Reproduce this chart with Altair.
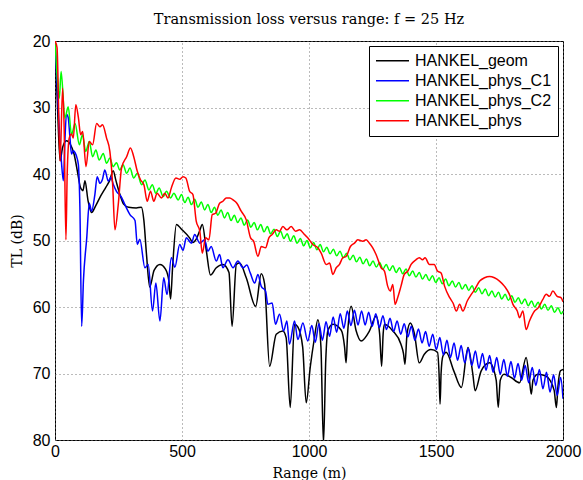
import altair as alt
import pandas as pd

names = ["HANKEL_geom", "HANKEL_phys_C1", "HANKEL_phys_C2", "HANKEL_phys"]
colors = ["#000000", "#0000ff", "#00ff00", "#ff0000"]
x_ticks = [0, 500, 1000, 1500, 2000]
y_ticks = [20, 30, 40, 50, 60, 70, 80]

geom_x = [0, 10, 20, 30, 45, 60, 75, 90, 100, 110, 118, 130, 144, 160, 180, 200, 215, 229, 240, 255,
          270, 290, 320, 340, 350, 360, 373, 390, 413, 435, 448, 455, 463, 478, 498,
          530, 543, 556, 570, 580, 596, 612, 635, 661, 685, 697, 714, 727, 753, 790, 812, 825, 845,
          871, 897, 910, 926, 943, 956, 975, 989,
          1005, 1020, 1035, 1047, 1057, 1066, 1074, 1094, 1127, 1140, 1146, 1152, 1166, 1185, 1205,
          1238, 1264, 1278, 1286, 1292, 1297, 1330, 1362, 1372, 1378, 1386, 1399, 1415, 1434, 1454,
          1480, 1506, 1512, 1516, 1520, 1527, 1540, 1570, 1600, 1626, 1645, 1654, 1678, 1711, 1737,
          1745, 1753, 1768, 1796, 1829, 1855, 1868, 1875, 1882, 1901, 1933, 1965, 1974, 1980, 1990, 2000]
geom_y = [20, 30, 38, 36, 35, 35.5, 37, 40, 42, 42.5, 41, 44, 45.8, 44.8, 43.3, 42, 41, 39.5, 41, 43,
          44.5, 45, 45.1, 45, 47, 52, 57, 54.5, 53.6, 54.3, 56, 58.8, 54, 47.6, 48.3,
          49.6, 50.3, 49.8, 48.5, 47.6, 51.6, 55.2, 54.1, 53.6, 54.8, 62.9, 53.6, 53.4, 55.6, 59.9, 55, 56.5, 68.9,
          64.1, 63.6, 64.6, 75.1, 62.6, 63, 66, 74.4,
          69, 65, 61.9, 66, 80.5, 68, 63.6, 62.6, 63.5, 66, 68.4, 64, 59.9, 63.5, 65.1,
          63.6, 61.4, 64, 68.9, 64, 62.6, 63.6, 65.6, 67, 68.6, 64, 62.4, 64, 68.4, 67.1,
          66.4, 66.8, 70, 74.6, 70, 67.4, 66.8, 69.6, 72.1, 66.1, 70.1, 72.6, 69.6, 68.4, 71,
          75.1, 71, 70.1, 70.6, 71.4, 67.6, 71, 73.1, 71, 70.1, 70.4, 72.5, 75.1, 72, 69.6, 69.4]

c1_x = [0, 15, 25, 33, 39, 45, 52, 59, 65, 72, 79, 86, 92, 98, 105, 112, 125, 135, 144, 157, 166, 177,
        187, 196, 210, 220, 229, 242, 262, 275, 295, 315, 324, 334, 354, 367, 384, 397, 413, 428, 441,
        458, 472, 491, 504, 517, 537, 550, 570, 589, 602, 615, 635, 648, 661, 681, 701, 720, 740, 755,
        769, 786, 799, 812, 829, 838, 855, 868, 884, 900, 913, 923, 943, 956, 976, 995,
        1011, 1025, 1039, 1053, 1067, 1081, 1095, 1109, 1123, 1137, 1151, 1165, 1179, 1193, 1207, 1221,
        1235, 1249, 1263, 1277, 1291, 1305, 1319, 1333, 1347, 1361, 1375, 1389, 1403, 1417, 1431, 1445,
        1459, 1473, 1487, 1501, 1515, 1529, 1543, 1557, 1571, 1585, 1599, 1613, 1627, 1641, 1655, 1669,
        1683, 1697, 1711, 1725, 1739, 1753, 1767, 1781, 1795, 1809, 1823, 1837, 1851, 1865, 1879, 1893,
        1907, 1921, 1935, 1949, 1963, 1977, 1991, 2000]
c1_y = [20, 32, 38, 41, 35, 31, 31.5, 34.6, 37, 36.5, 36.8, 37.5, 38.6, 45, 62.9, 56, 49.6, 44.4, 45.6,
        43.1, 40.4, 41.4, 40.8, 39.4, 41.1, 40.5, 41.5, 42.6, 43.5, 44.6, 46.1, 47, 50.6, 49.8, 54.1, 53.6,
        60.6, 56.4, 62.1, 55.6, 58.1, 52.6, 54, 50.6, 51.5, 49.6, 50.4, 49.1, 50.4, 49.9, 51.6, 50.9, 53.1,
        52.1, 54.1, 52.9, 54.1, 53.1, 54.1, 53.7, 54.9, 56.4, 55.1, 56.9, 57.6, 59.6, 59.4, 62.6, 61.1,
        63.6, 62.1, 65.6, 62.1, 64.9, 62.4, 65.1,
        62.8, 65.3, 62.5, 65, 62.2, 64.4, 61.5, 63.8, 61, 63.2, 60.6, 62.8, 60.5, 62.7, 60.6, 62.7,
        60.8, 62.9, 61, 63.1, 61.3, 63.4, 61.7, 63.7, 62.1, 64.1, 62.5, 64.5, 62.9, 65, 63.3, 65.4,
        63.7, 65.9, 64.1, 66.4, 64.6, 67.2, 65, 67.6, 65.4, 68, 65.8, 68.4, 66.2, 68.8, 66.6, 69.2,
        67, 69.5, 67.3, 69.8, 67.6, 70.1, 67.9, 70.4, 68.2, 70.7, 68.5, 71, 68.8, 71.4, 69.1, 71.8,
        69.4, 72.3, 69.8, 72.8, 70.2, 73.3, 70.6, 73.8]

c2_x = [0, 10, 17, 24, 39, 52, 65, 79, 96, 108, 121, 135, 148, 161, 174, 190, 203, 216, 229, 242, 255,
        268, 282, 295, 310, 324, 341, 354, 370, 383, 397, 410, 426, 439, 455, 468, 485, 498,
        511, 524, 537, 550, 563, 576, 589, 602, 615, 628, 641, 654, 667, 680, 693, 706, 719, 732, 745,
        758, 771, 784, 797, 810, 823, 836, 849, 862, 875, 888, 901, 914, 927, 940, 953, 966, 979, 992,
        1005, 1018, 1031, 1044, 1057, 1070, 1083, 1096, 1109, 1122, 1135, 1148, 1161, 1174, 1187, 1200,
        1213, 1226, 1239, 1252, 1265, 1278, 1291, 1304, 1317, 1330, 1343, 1356, 1369, 1382, 1395, 1408,
        1421, 1434, 1447, 1460, 1473, 1486, 1499, 1512, 1525, 1538, 1551, 1564, 1577, 1590, 1603, 1616,
        1629, 1642, 1655, 1668, 1681, 1694, 1707, 1720, 1733, 1746, 1759, 1772, 1785, 1798, 1811, 1824,
        1837, 1850, 1863, 1876, 1889, 1902, 1915, 1928, 1941, 1954, 1967, 1980, 1993, 2000]
c2_y = [20, 26, 28.6, 24.6, 31.6, 29.9, 34.1, 32.4, 35.6, 34.1, 36.6, 35.1, 37.4, 36.4, 37.9, 36.9, 38.4,
        37.6, 38.9, 38.3, 39.4, 38.6, 39.9, 39.1, 40.6, 39.9, 41.6, 40.9, 42.4, 41.6, 42.9, 42.1, 43.4, 42.6,
        43.6, 42.9, 43.9, 43.1,
        44.3, 43.5, 44.6, 43.8, 45, 44.2, 45.4, 44.6, 45.8, 45, 46.2, 45.4, 46.6, 45.8, 47, 46.2, 47.3, 46.6,
        47.7, 46.9, 48, 47.3, 48.4, 47.6, 48.7, 47.9, 49, 48.3, 49.4, 48.6, 49.7, 49, 50.1, 49.3, 50.4, 49.7,
        50.8, 50, 51.1, 50.3, 51.4, 50.6, 51.7, 51, 52, 51.3, 52.3, 51.6, 52.6, 51.9, 52.9, 52.2, 53.2, 52.5,
        53.5, 52.8, 53.8, 53.1, 54, 53.3, 54.3, 53.6, 54.5, 53.8, 54.8, 54.1, 55, 54.3, 55.3, 54.6, 55.5, 54.8,
        55.8, 55.1, 56, 55.3, 56.3, 55.6, 56.5, 55.8, 56.8, 56.1, 57, 56.3, 57.3, 56.6, 57.5, 56.8, 57.8, 57.1,
        58, 57.3, 58.3, 57.6, 58.5, 57.8, 58.8, 58.1, 59, 58.3, 59.3, 58.6, 59.5, 58.8, 59.8, 59.1, 60, 59.3,
        60.3, 59.6, 60.5, 59.8, 60.8, 60.1, 61, 60.6]

phys_x = [0, 8, 20, 30, 36, 43, 48, 56, 65, 72, 82, 92, 101, 109, 122, 135, 148, 164, 177, 187, 203,
          216, 227, 236, 249, 262, 282, 297, 310, 324, 337, 350, 363, 376, 389, 402, 419, 432, 445, 458,
          476, 491, 504, 515, 530, 543, 556, 570, 580, 593, 606, 619, 632, 648, 661, 674, 688, 701, 716,
          733, 753, 770, 782, 799, 812, 829, 842, 855, 871, 884, 897, 913, 930, 947, 963, 982, 995,
          1015, 1035, 1048, 1068, 1081, 1094, 1107, 1120, 1133, 1146, 1163, 1179, 1192, 1212, 1225, 1238,
          1251, 1264, 1284, 1297, 1310, 1320, 1330, 1339, 1349, 1362, 1375, 1389, 1402, 1421, 1434, 1447,
          1457, 1474, 1493, 1506, 1520, 1534, 1554, 1567, 1580, 1593, 1606, 1623, 1639, 1652, 1672, 1691,
          1711, 1730, 1750, 1770, 1789, 1803, 1820, 1829, 1842, 1855, 1868, 1888, 1903, 1920, 1934, 1947,
          1960, 1977, 1992, 2000]
phys_y = [20, 21, 38.1, 27.1, 33, 49.9, 40, 34.6, 34, 34.6, 29.6, 31.5, 34.1, 33.6, 38.9, 35.1, 35.6,
          32.4, 32.9, 32.6, 34.6, 36.6, 41.6, 48.4, 44.6, 39.1, 37.4, 36.1, 37.4, 39.6, 40.9, 41.6, 44.1,
          42.6, 44.1, 42.9, 43.6, 42.9, 43.6, 42.1, 40.6, 40.8, 40.4, 40.6, 42.6, 43.1, 47.1, 48.6, 51.9,
          49.6, 49.9, 46.1, 45.9, 44.4, 44.1, 43.6, 43.6, 43.9, 44.4, 45.6, 46.9, 49.6, 50.1, 52.4, 50.9,
          51.1, 49.6, 49.1, 48.4, 48.6, 47.9, 48.4, 47.9, 48.6, 48.4, 49.1, 49.6,
          50.6, 51.1, 51.9, 53.6, 53.4, 55.1, 54.1, 53.6, 52.6, 52.4, 50.9, 50.4, 49.9, 50.1, 49.9, 50.4,
          51.1, 52.1, 54.1, 54.6, 56.9, 57.6, 56.6, 59.6, 58.6, 56.9, 55.1, 54.6, 53.6, 52.9, 52.6, 52.9,
          52.6, 53.6, 53.6, 54.6, 54.9, 56.9, 58.6, 59.4, 60.6, 59.6, 60.6, 59.1, 58.1, 57.4, 56.1, 55.6,
          55.4, 55.6, 56.1, 56.9, 58.1, 59.6, 60.6, 61.6, 60.6, 63.4, 62.1, 60.6, 60.1, 58.9, 58.1, 58.4,
          57.6, 58.4, 58.6, 59.2]

frames = []
for n, xs, ys in zip(names, [geom_x, c1_x, c2_x, phys_x], [geom_y, c1_y, c2_y, phys_y]):
    frames.append(pd.DataFrame({"range": xs, "tl": ys, "series": n}))
df = pd.concat(frames, ignore_index=True)

serif = "DejaVu Serif"
sans = "Liberation Sans"

base = alt.Chart(df).mark_line(strokeWidth=1.5, clip=True, interpolate="monotone").encode(
    x=alt.X("range:Q",
            scale=alt.Scale(domain=[0, 2000], nice=False),
            axis=alt.Axis(values=x_ticks, title="Range (m)", format="d", labelFlush=False)),
    y=alt.Y("tl:Q",
            scale=alt.Scale(domain=[20, 80], reverse=True, nice=False),
            axis=alt.Axis(values=y_ticks, title="TL (dB)", format="d", labelFlush=False)),
    color=alt.Color("series:N",
                    scale=alt.Scale(domain=names, range=colors),
                    legend=alt.Legend(title=None, orient="top-right", offset=5,
                                      symbolType="stroke", symbolSize=1089, symbolStrokeWidth=1.5,
                                      labelFont=sans, labelFontSize=16, labelColor="black",
                                      labelLimit=0, labelOffset=5, clipHeight=17.5,
                                      padding=6, strokeColor="black", fillColor="white",
                                      cornerRadius=0)),
)

layers = [base.transform_filter(alt.datum.series == n) for n in names]

chart = alt.layer(*layers).properties(
    width=508, height=399,
    padding={"left": 55, "top": 41, "right": 20, "bottom": 40},
    autosize=alt.AutoSizeParams(type="none"),
    title=alt.TitleParams("Transmission loss versus range:  f = 25 Hz", font=serif, fontSize=14.5,
                          fontWeight="normal", color="black", offset=6),
).configure_view(stroke="black", strokeWidth=1).configure_axis(
    grid=True, gridColor="#777777", gridDash=[1, 3], gridWidth=1, gridOpacity=1,
    ticks=False, domain=False,
    labelFont=sans, labelFontSize=16, labelColor="black",
    titleFont=serif, titleFontSize=14, titleFontWeight="normal", titleColor="black",
).configure_axisX(labelPadding=3, titlePadding=7).configure_axisY(labelPadding=5, titlePadding=8)

chart.save("out.html", embed_options={"renderer": "svg", "actions": False})
